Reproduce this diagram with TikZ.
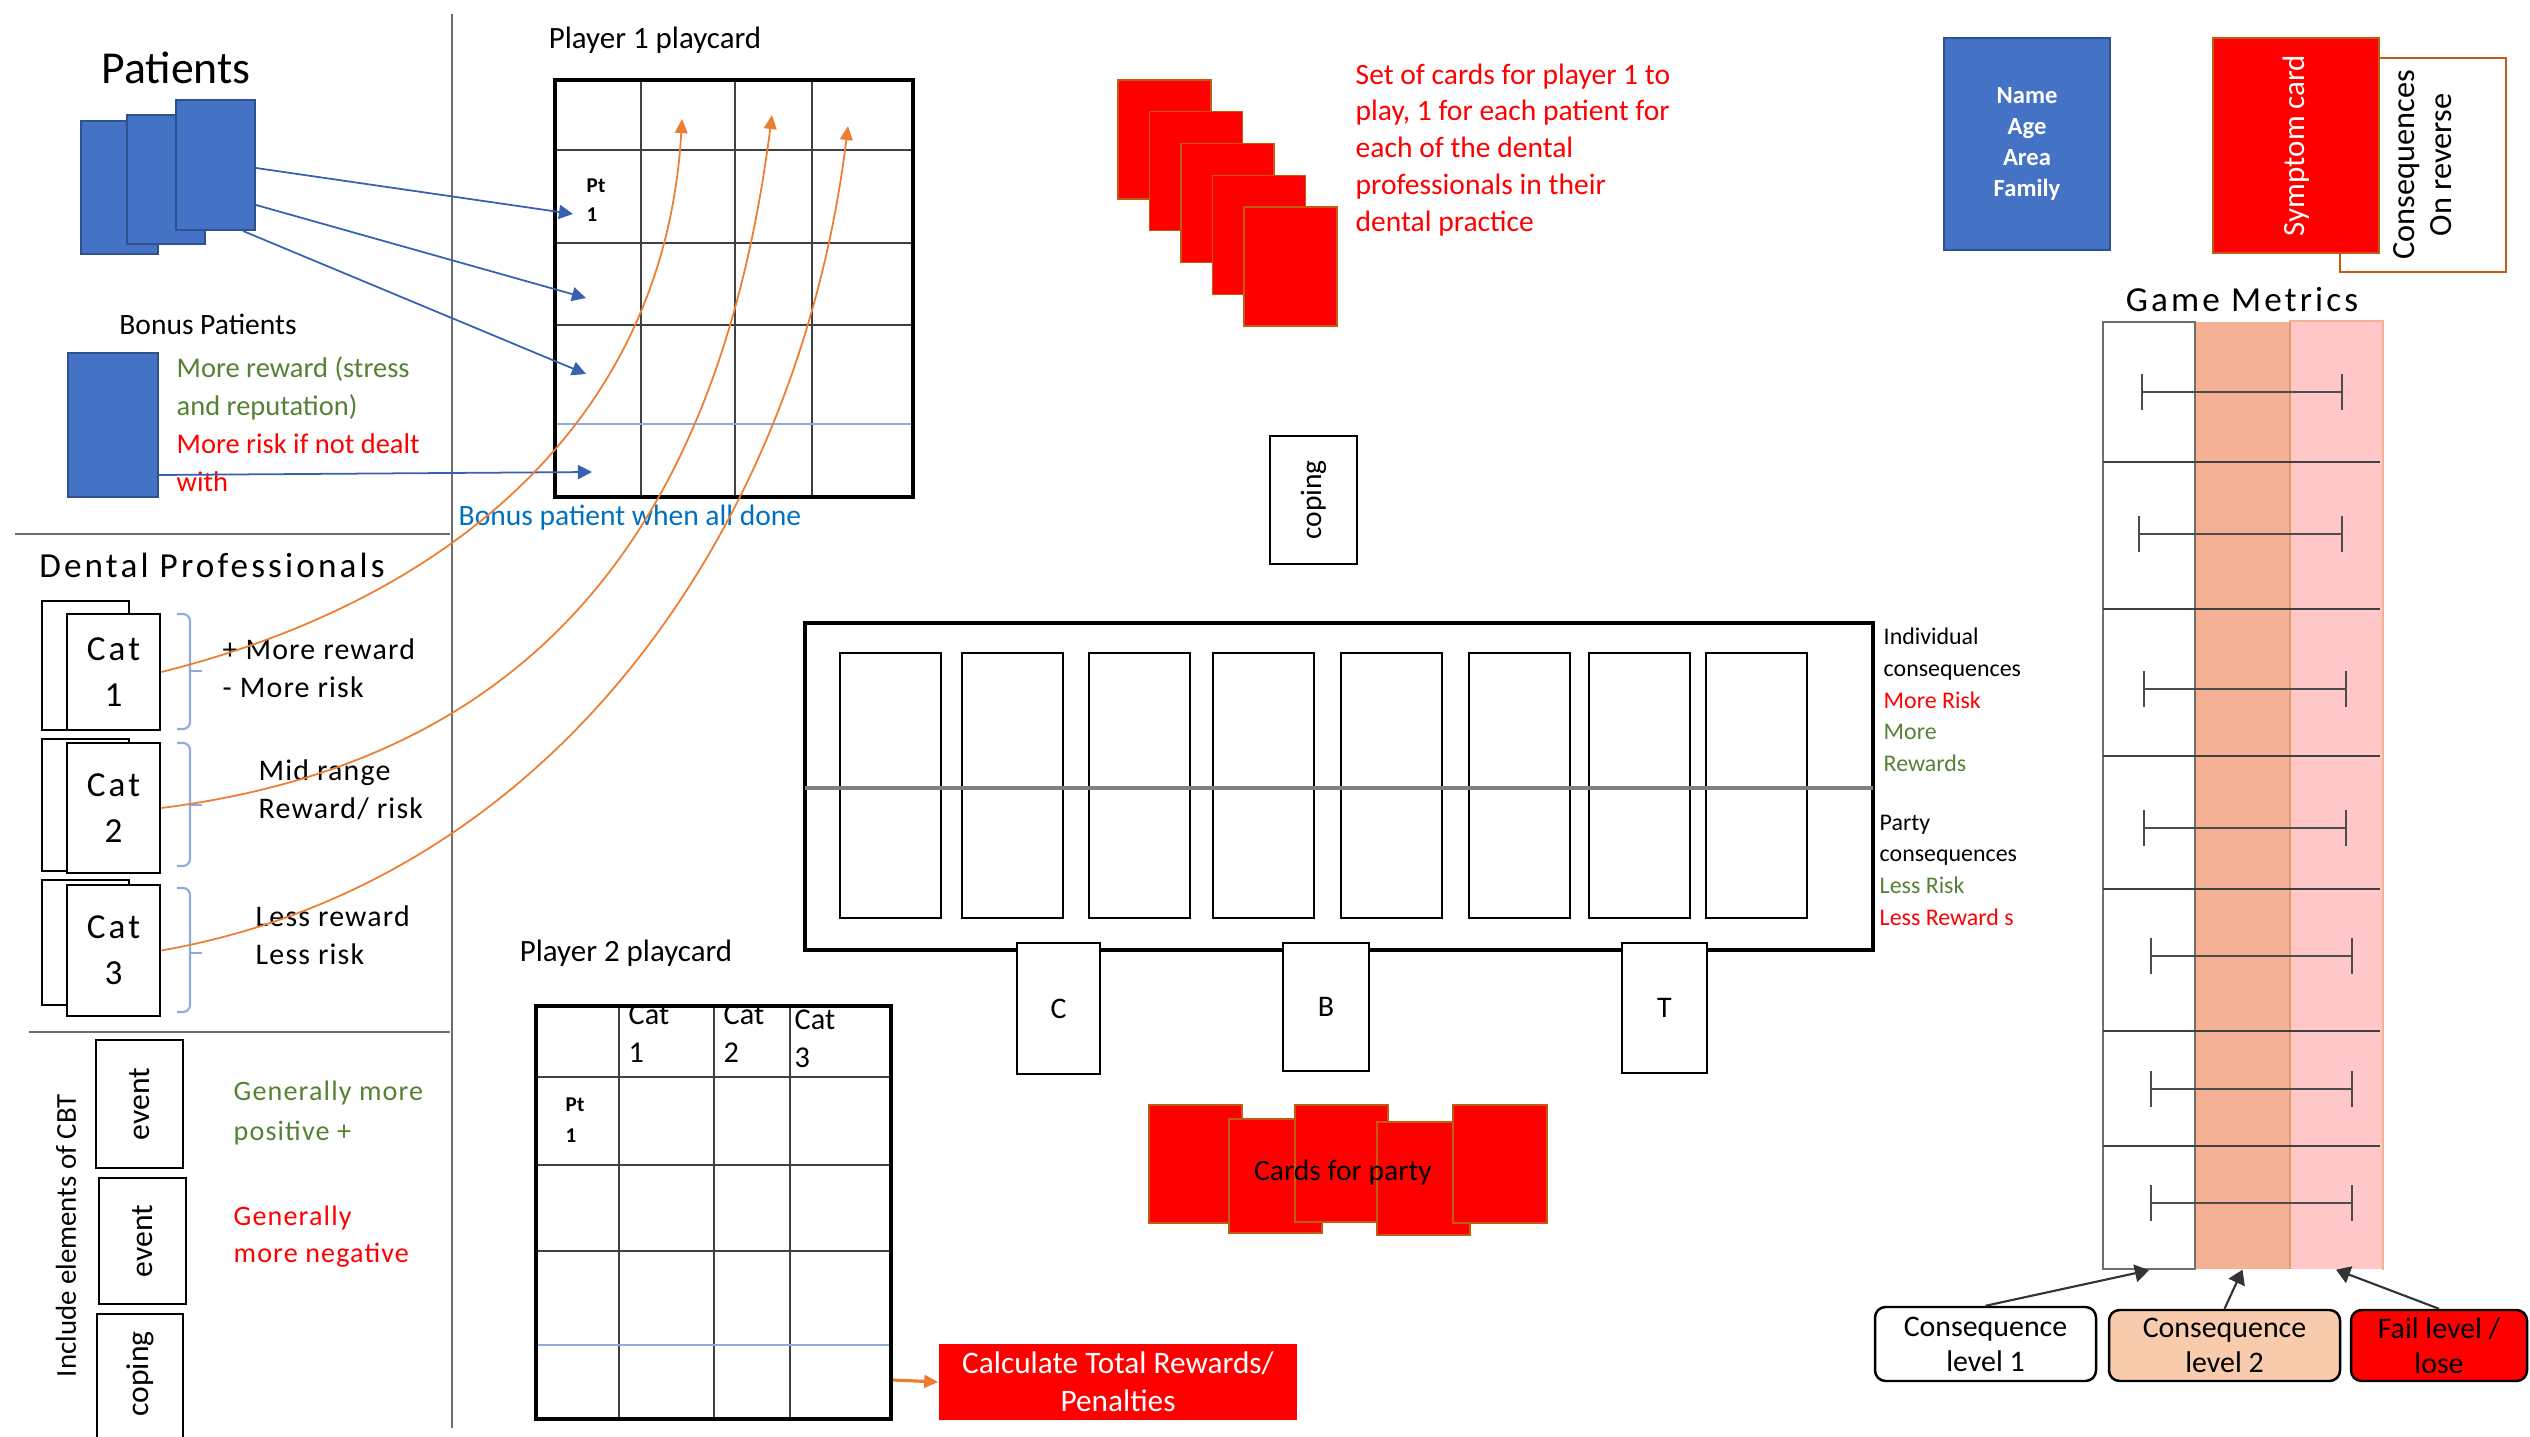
\documentclass[tikz,border=0pt]{standalone}
\usepackage{fontspec}
\setmainfont{Carlito}
\newfontfamily\spacedfont[LetterSpace=9]{Carlito}
\newfontfamily\loosefont[LetterSpace=4]{Carlito}
\usetikzlibrary{arrows.meta, fit}
\definecolor{patblue}   {RGB}{68, 114, 196}
\definecolor{patedge}   {RGB}{47,  82, 143}
\definecolor{cardred}   {RGB}{255,  0,   0}
\definecolor{cardedge}  {RGB}{197, 90,  17}
\definecolor{linkblue}  {RGB}{56,  96, 176}
\definecolor{linkorange}{RGB}{237,125,  49}
\definecolor{txtgreen}  {RGB}{84, 130,  53}
\definecolor{txtblue}   {RGB}{0,  112, 192}
\definecolor{paleblue}  {RGB}{143,170, 220}
\definecolor{salmon}    {RGB}{244,177, 147}
\definecolor{pinkish}   {RGB}{255,199, 199}
\definecolor{peach}     {RGB}{248,203, 173}
\definecolor{rulegray}  {RGB}{110,110, 110}

\begin{document}
\begin{tikzpicture}[x=0.01cm, y=-0.01cm,
    every node/.style={inner sep=0pt},
    card/.style={draw, fill=white, line width=0.8pt},
    bluecard/.style={draw=patedge, fill=patblue, line width=0.6pt},
    redcard/.style={draw=cardedge, fill=cardred, line width=0.4pt},
    gridframe/.style={draw, line width=1.1pt},
    gridline/.style={draw=black!75, line width=0.6pt},
    lbl/.style={font=\fontsize{8.4}{10.5}\selectfont},
    small/.style={font=\fontsize{6.8}{9}\selectfont},
    tag/.style={lbl, align=left, anchor=west},
    catnote/.style={tag, font=\loosefont\fontsize{8.5}{10.8}\selectfont},
    bluelink/.style={-{Triangle[length=4pt,width=4pt]}, linkblue, line width=0.5pt},
    orangelink/.style={-{Triangle[length=4pt,width=3.6pt]}, linkorange, line width=0.5pt},
    metriclink/.style={-{Triangle[length=4pt,width=5pt]}, black!80, line width=0.6pt},
    legend/.style={draw, line width=0.7pt, rounded corners=3pt},
    legendtext/.style={align=center, font=\fontsize{8.5}{10}\selectfont},
    brace/.style={paleblue, line width=0.6pt, rounded corners=2pt},
    divider/.style={rulegray, line width=0.7pt},
    ebar/.style={black!70, line width=0.6pt, {Bar[width=10pt]}-{Bar[width=10pt]}}]
  \useasboundingbox (0,0) rectangle (2530,1437);

  % Dividers
  \draw[divider] (452,14) -- (452,1428);
  \draw[divider] (15,534) -- (450,534);
  \draw[divider] (29,1032) -- (450,1032);

  % Patients
  \node[font=\fontsize{13}{15}\selectfont] (pattitle) at (176,68) {Patients};
  \node[bluecard, fit={(81,121)(158,254)}] (patA) {};
  \node[bluecard, fit={(127,115)(205,244)}] (patB) {};
  \node[bluecard, fit={(176,100)(255,230)}] (patC) {};

  % Bonus patients
  \node[lbl] (bonustitle) at (208,324) {Bonus Patients};
  \node[bluecard, fit={(68,353)(158,497)}] (bonus) {};
  \node[tag, font=\fontsize{8.1}{10.8}\selectfont] (bonusnote) at (176,424)
    {\textcolor{txtgreen}{More reward (stress}\\\textcolor{txtgreen}{and reputation)}\\
     \textcolor{red}{More risk if not dealt}\\\textcolor{red}{with}};

  % Player 1 playcard
  \node[font=\fontsize{8.8}{10.5}\selectfont] (p1title) at (655,40) {Player 1 playcard};
  \foreach \gx in {641,735,812} \draw[gridline] (\gx,80) -- (\gx,497);
  \foreach \gy in {150,243,325} \draw[gridline] (555,\gy) -- (913,\gy);
  \draw[paleblue, line width=0.6pt] (555,424) -- (913,424);
  \node[gridframe, fit={(555,80)(913,497)}] (grid1) {};
  \node[tag, font=\fontsize{6}{8.2}\selectfont\bfseries] (p1pt) at (586,200) {Pt\\1};
  \node[lbl, text=txtblue] (bonuslbl) at (630,518) {Bonus patient when all done};

  % Patient arrows
  \coordinate (pout1) at (256,168);
  \coordinate (pout2) at (256,205);
  \coordinate (pout3) at (243,231);
  \coordinate (pout4) at (159,475);
  \coordinate (pin1) at (573,214);
  \coordinate (pin2) at (586,298);
  \coordinate (pin3) at (586,374);
  \coordinate (pin4) at (592,472);
  \foreach \n in {1,...,4} \draw[bluelink] (pout\n) -- (pin\n);

  % Dental professionals
  \node[font=\spacedfont\fontsize{10}{12}\selectfont] (dentaltitle) at (212,565) {Dental Professionals};
  \foreach \k/\bt/\bb/\ft/\fb in {1/601/730/614/730, 2/739/871/743/873, 3/880/1005/885/1016} {
    \node[card, fit={(42,\bt)(129,\bb)}] (back\k) {};
    \node[card, fit={(67,\ft)(160,\fb)}] (cat\k) {};
    \node[align=center, font=\spacedfont\fontsize{10}{13}\selectfont] (cat\k lbl) at (cat\k) {Cat\\\k};
  }
  \foreach \bt/\bm/\bb in {614/671/729, 743/805/866, 888/953/1012} {
    \draw[brace] (177,\bt) -- (190,\bt) -- (190,\bb) -- (177,\bb);
    \draw[brace] (190,\bm) -- (202,\bm);
  }
  \node[catnote] (cat1note) at (222,668) {+ More reward\\- More risk};
  \node[catnote] (cat2note) at (258,790) {Mid range\\Reward/ risk};
  \node[catnote] (cat3note) at (255,935) {Less reward\\Less risk};

  % Category to playcard columns
  \coordinate (tip1) at (682,119);
  \coordinate (tip2) at (772,115);
  \coordinate (tip3) at (848,126);
  \draw[orangelink] (cat1.east) .. controls (450,600) and (665,420) .. (tip1);
  \draw[orangelink] (cat2.east) .. controls (540,760) and (720,520) .. (tip2);
  \draw[orangelink] (cat3.east) .. controls (560,880) and (800,520) .. (tip3);

  % CBT cards
  \node[font=\fontsize{8.2}{10}\selectfont, rotate=90] (cbt) at (66,1236) {Include elements of CBT};
  \node[card, fit={(96,1040)(183,1168)}] (event1) {};
  \node[card, fit={(99,1178)(186,1304)}] (event2) {};
  \node[card, fit={(97,1314)(183,1470)}] (coping1) {};
  \node[rotate=90, font=\fontsize{9}{11}\selectfont] (event1lbl) at (event1) {event};
  \node[rotate=90, font=\fontsize{9}{11}\selectfont] (event2lbl) at (event2) {event};
  \node[rotate=90, font=\fontsize{9}{11}\selectfont] (coping1lbl) at (140,1374) {coping};
  \node[tag, font=\loosefont\fontsize{8}{11.4}\selectfont, text=txtgreen] (posnote) at (233,1113) {Generally more\\positive +};
  \node[tag, font=\loosefont\fontsize{8}{10.5}\selectfont, text=red] (negnote) at (233,1237) {Generally\\more negative};

  % Player 1 deck
  \foreach \i in {0,...,4}
    \node[redcard, fit={({1118+31.5*\i},{80+31.75*\i}) ({1211+31.5*\i},{199+31.75*\i})}] (deck\i) {};
  \node[tag, text=red] (decknote) at (1355,150)
    {Set of cards for player 1 to\\play, 1 for each patient for\\each of the dental\\professionals in their\\dental practice};

  \node[card, fit={(1270,436)(1357,564)}] (copingcard) {};
  \node[rotate=90, lbl] (copinglbl) at (copingcard) {coping};

  % Party board
  \node[card, line width=1pt, fit={(805,623)(1873,950)}] (board) {};
  \foreach \sx [count=\k] in {840,962,1089,1213,1341,1469,1589,1706}
    \node[card, fit={(\sx,653)({\sx+101},918)}] (slot\k) {};
  \draw[gray, line width=0.9pt] (805,788) -- (1873,788);
  \foreach \lt/\lx/\rx/\bt in {C/1017/1100/1074, B/1283/1369/1071, T/1622/1707/1073} {
    \node[card, fit={(\lx,943)(\rx,\bt)}] (role\lt) {};
    \node[font=\fontsize{8.5}{10}\selectfont] (role\lt lbl) at (role\lt) {\lt};
  }
  \node[tag, small] (indnote) at (1883,700)
    {Individual\\consequences\\\textcolor{red}{More Risk}\\\textcolor{txtgreen}{More}\\\textcolor{txtgreen}{Rewards}};
  \node[tag, small] (partynote) at (1879,870)
    {Party\\consequences\\\textcolor{txtgreen}{Less Risk}\\\textcolor{red}{Less Reward s}};

  % Party cards
  \foreach \i/\ax/\ay/\bx/\by in {1/1149/1105/1242/1223, 2/1229/1119/1322/1233,
      3/1295/1105/1388/1222, 4/1377/1122/1470/1235, 5/1453/1105/1547/1223}
    \node[redcard, fit={(\ax,\ay)(\bx,\by)}] (party\i) {};
  \node[lbl] (partylbl) at (1343,1173) {Cards for party};

  % Player 2 playcard
  \node[font=\fontsize{8.8}{10.5}\selectfont] (p2title) at (626,953) {Player 2 playcard};
  \foreach \gx in {619,714,790} \draw[gridline] (\gx,1006) -- (\gx,1419);
  \foreach \gy in {1077,1165,1251} \draw[gridline] (536,\gy) -- (891,\gy);
  \draw[paleblue, line width=0.8pt] (536,1345) -- (891,1345);
  \node[gridframe, fit={(536,1006)(891,1419)}] (grid2) {};
  \foreach \hx/\hn/\hy in {628/1/1034, 723/2/1034, 794/3/1039}
    \node[tag, font=\fontsize{8.6}{10.8}\selectfont] (head\hn) at (\hx,\hy) {Cat\\\hn};
  \node[tag, font=\fontsize{6}{8.8}\selectfont\bfseries] (p2pt) at (565,1120) {Pt\\1};

  \node[fill=cardred, fit={(939,1344)(1297,1420)}] (calc) {};
  \node[text=white, align=center, font=\fontsize{8.9}{10.8}\selectfont] (calclbl) at (calc)
    {Calculate Total Rewards/\\Penalties};
  \coordinate (p2out) at (893,1380);
  \draw[orangelink, line width=0.9pt] (p2out) -- (calc.west);

  % Card types
  \node[bluecard, fit={(1944,38)(2110,250)}] (infocard) {};
  \node[text=white, align=center, font=\fontsize{7}{8.8}\selectfont\bfseries] (infolbl) at (infocard)
    {Name\\Age\\Area\\Family};
  \node[draw=cardedge, fill=white, line width=0.6pt, fit={(2340,58)(2506,272)}] (backcard) {};
  \node[rotate=90, align=center, font=\fontsize{9.2}{10.5}\selectfont] (backlbl) at (backcard) {Consequences\\On reverse};
  \node[redcard, fit={(2213,38)(2379,253)}] (symptom) {};
  \node[rotate=90, text=white, font=\fontsize{8.8}{10}\selectfont] (symptomlbl) at (symptom) {Symptom card};

  % Game metrics
  \node[font=\spacedfont\fontsize{10}{12}\selectfont] (metricstitle) at (2242,300) {Game Metrics};
  \node[fill=salmon, fit={(2195,322)(2290,1269)}] (salmoncol) {};
  \node[fill=pinkish, fit={(2290,322)(2382,1269)}] (pinkcol) {};
  \draw[cardedge!60, line width=0.5pt] (2290,322) -- (2290,1269);
  \draw[salmon, line width=0.6pt] (pinkcol.north west) -- (pinkcol.north east) -- (pinkcol.south east);
  \node[draw=rulegray, line width=0.7pt, fit={(2103,322)(2195,1269)}] (whitecol) {};
  \foreach \ry in {462,609,756,889,1031,1146} \draw[black!75, line width=0.6pt] (2103,\ry) -- (2380,\ry);
  \foreach \ey/\ea/\eb in {392/2141/2343, 534/2138/2343, 689/2143/2347, 828/2143/2347,
      956/2150/2353, 1089/2150/2353, 1203/2150/2353}
    \draw[ebar] (\ea,\ey) -- (\eb,\ey);

  % Legend
  \node[legend, fill=white, fit={(1875,1307)(2096,1381)}] (lvl1) {};
  \node[legend, fill=peach, fit={(2109,1310)(2340,1381)}] (lvl2) {};
  \node[legend, fill=cardred, fit={(2351,1310)(2527,1381)}] (fail) {};
  \node[legendtext] (lvl1lbl) at (lvl1) {Consequence\\level 1};
  \node[legendtext] (lvl2lbl) at (lvl2) {Consequence\\level 2};
  \node[legendtext] (faillbl) at (fail) {Fail level /\\lose};
  \draw[metriclink] (lvl1.north) -- (whitecol.south);
  \draw[metriclink] (lvl2.north) -- (salmoncol.south);
  \draw[metriclink] (fail.north) -- (pinkcol.south);
\end{tikzpicture}
\end{document}
